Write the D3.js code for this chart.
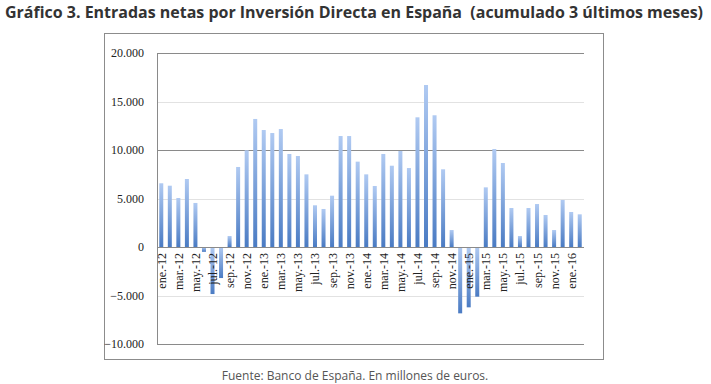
<!DOCTYPE html>
<html>
<head>
<meta charset="utf-8">
<script src="https://cdn.jsdelivr.net/npm/d3@7"></script>
<style>
    body { margin: 0; background: #fff; }
    svg { display: block; }
</style>
</head>
<body>
<svg id="chart" width="711" height="384"></svg>
<script>
// monthly data, ene-12 .. feb-16 (millones de euros, acumulado 3 meses)
const months = ["ene.-12", "feb.-12", "mar.-12", "abr.-12", "may.-12", "jun.-12", "jul.-12", "ago.-12", "sep.-12", "oct.-12", "nov.-12", "dic.-12",
    "ene.-13", "feb.-13", "mar.-13", "abr.-13", "may.-13", "jun.-13", "jul.-13", "ago.-13", "sep.-13", "oct.-13", "nov.-13", "dic.-13",
    "ene.-14", "feb.-14", "mar.-14", "abr.-14", "may.-14", "jun.-14", "jul.-14", "ago.-14", "sep.-14", "oct.-14", "nov.-14", "dic.-14",
    "ene.-15", "feb.-15", "mar.-15", "abr.-15", "may.-15", "jun.-15", "jul.-15", "ago.-15", "sep.-15", "oct.-15", "nov.-15", "dic.-15",
    "ene.-16", "feb.-16"];
const values = [6570, 6320, 5050, 7010, 4540, -500, -4850, -3200, 1130, 8250, 9970, 13200,
    12060, 11750, 12160, 9590, 9380, 7490, 4300, 3920, 5290, 11440, 11440, 8800,
    7490, 6290, 9590, 8380, 9900, 8140, 13370, 16700, 13580, 8010, 1750, -6840,
    -6220, -5120, 6150, 10100, 8660, 4020, 1130, 4020, 4430, 3300, 1750, 4850,
    3610, 3370];
const yTicks = [-10000, -5000, 0, 5000, 10000, 15000, 20000];
const darkGrid = [20000, 10000, -10000];

const titleText = "Gráfico 3. Entradas netas por Inversión Directa en España  (acumulado 3 últimos meses)";
const sourceText = "Fuente: Banco de España. En millones de euros.";

const svg = d3.select("#chart");

// title (keep the double space)
svg.append("text")
    .attr("x", 5)
    .attr("y", 18)
    .attr("textLength", 698)
    .attr("lengthAdjust", "spacingAndGlyphs")
    .style("white-space", "pre")
    .style("font-family", "'Open Sans', sans-serif")
    .style("font-weight", "bold")
    .style("font-size", "16px")
    .attr("fill", "#333")
    .text(titleText);

// outer chart frame
svg.append("rect")
    .attr("x", 104.5).attr("y", 33.5)
    .attr("width", 499).attr("height", 326)
    .attr("fill", "#fff")
    .attr("stroke", "#8c8c8c");

const plot = { left: 157, right: 584, top: 53, bottom: 344 };

const x = d3.scaleBand()
    .domain(months)
    .range([plot.left, plot.right]);

const y = d3.scaleLinear()
    .domain([-10000, 20000])
    .range([plot.bottom, plot.top]);

// gradient for bars
const defs = svg.append("defs");
const grad = defs.append("linearGradient")
    .attr("id", "barGrad")
    .attr("x1", 0).attr("y1", 0).attr("x2", 0).attr("y2", 1);
grad.append("stop").attr("offset", "0%").attr("stop-color", "#b0caf2");
grad.append("stop").attr("offset", "100%").attr("stop-color", "#4a7bc3");

// gridlines
svg.append("g")
    .selectAll("line")
    .data(yTicks.filter(d => d !== 0))
    .enter().append("line")
    .attr("x1", plot.left).attr("x2", plot.right)
    .attr("y1", d => Math.round(y(d)) + 0.5)
    .attr("y2", d => Math.round(y(d)) + 0.5)
    .attr("stroke", d => darkGrid.includes(d) ? "#8a8a8a" : "#e2e2e2");

// y axis labels
const yAxis = svg.append("g")
    .attr("transform", `translate(${plot.left - 10},0)`)
    .call(d3.axisLeft(y).tickValues(yTicks).tickSize(0)
        .tickFormat(d => d3.format(",")(d).replace(/,/g, ".")));
yAxis.select(".domain").remove();
yAxis.selectAll("text")
    .style("font-family", "'Liberation Serif', serif")
    .style("font-size", "12px")
    .attr("fill", "#222");

// bars
const bw = 4;
svg.append("g")
    .selectAll("rect")
    .data(values)
    .enter().append("rect")
    .attr("x", (d, i) => x(months[i]) + x.bandwidth() / 2 - bw / 2)
    .attr("y", d => y(Math.max(0, d)))
    .attr("width", bw)
    .attr("height", d => Math.abs(y(d) - y(0)))
    .attr("fill", "url(#barGrad)");

// axes lines
svg.append("line")
    .attr("x1", plot.left + 0.5).attr("x2", plot.left + 0.5)
    .attr("y1", plot.top).attr("y2", plot.bottom)
    .attr("stroke", "#8a8a8a");
svg.append("line")
    .attr("x1", plot.left).attr("x2", plot.right)
    .attr("y1", Math.round(y(0)) + 0.5).attr("y2", Math.round(y(0)) + 0.5)
    .attr("stroke", "#8a8a8a");

// x labels, every other month
svg.append("g")
    .selectAll("text")
    .data(months.filter((m, i) => i % 2 === 0))
    .enter().append("text")
    .attr("transform", d => `translate(${x(d) + x.bandwidth() / 2 + 4.5},${y(0) + 6}) rotate(-90)`)
    .attr("text-anchor", "end")
    .style("font-family", "'Liberation Serif', serif")
    .style("font-size", "12px")
    .attr("fill", "#222")
    .text(d => d);

// source note
svg.append("text")
    .attr("x", 355)
    .attr("y", 380)
    .attr("text-anchor", "middle")
    .style("font-family", "'Open Sans', sans-serif")
    .style("font-size", "12px")
    .attr("fill", "#555")
    .text(sourceText);
</script>
</body>
</html>
